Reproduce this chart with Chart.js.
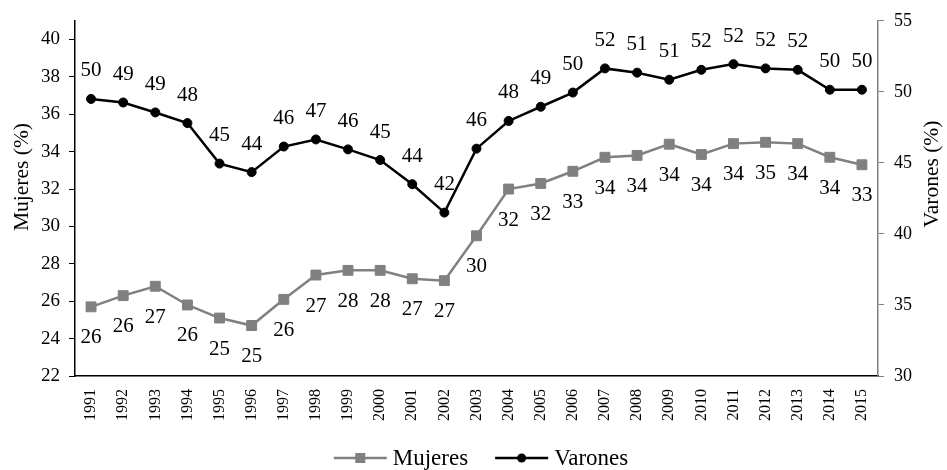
<!DOCTYPE html>
<html><head><meta charset="utf-8">
<style>html,body{margin:0;padding:0;background:#fff}</style>
<script src="https://cdn.jsdelivr.net/npm/chart.js@4.4.0/dist/chart.umd.min.js"></script>
</head><body>
<canvas id="c" width="947" height="470" style="width:947px;height:470px;display:block"></canvas>
<script>
const years = ['1991','1992','1993','1994','1995','1996','1997','1998','1999','2000','2001','2002','2003','2004','2005','2006','2007','2008','2009','2010','2011','2012','2013','2014','2015'];
const mujeres = [25.7,26.3,26.8,25.8,25.1,24.7,26.1,27.4,27.65,27.65,27.2,27.1,29.5,32.0,32.3,32.95,33.7,33.8,34.4,33.85,34.43,34.5,34.43,33.7,33.3];
const varones = [49.5,49.25,48.55,47.8,44.95,44.35,46.15,46.65,45.95,45.2,43.5,41.5,46.0,47.95,48.95,49.95,51.65,51.35,50.85,51.55,51.95,51.65,51.55,50.15,50.15];
const leftTicks = [22,24,26,28,30,32,34,36,38,40];
const rightTicks = [30,35,40,45,50,55];
const leftTitle = 'Mujeres (%)';
const rightTitle = 'Varones (%)';

const FONT = '"Liberation Serif", "Times New Roman", serif';
const GRAY = '#808080';

const valueLabels = {
  id: 'valueLabels',
  afterDatasetsDraw(chart) {
    const ctx = chart.ctx;
    const offsets = [31, -28];
    chart.data.datasets.forEach((ds, i) => {
      const meta = chart.getDatasetMeta(i);
      ctx.save();
      ctx.font = '21px ' + FONT;
      ctx.fillStyle = '#000';
      ctx.textAlign = 'center';
      ctx.textBaseline = 'middle';
      meta.data.forEach((pt, j) => {
        ctx.fillText(String(Math.round(ds.data[j])), pt.x, pt.y + offsets[i]);
      });
      ctx.restore();
    });
  }
};

const axisTitles = {
  id: 'axisTitles',
  afterDraw(chart) {
    const ctx = chart.ctx;
    ctx.save();
    ctx.font = '21.5px ' + FONT;
    ctx.fillStyle = '#000';
    ctx.textAlign = 'center';
    ctx.textBaseline = 'middle';
    [[22, 177, leftTitle], [932, 174, rightTitle]].forEach(([x, y, t]) => {
      ctx.save();
      ctx.translate(x, y);
      ctx.rotate(-Math.PI / 2);
      ctx.fillText(t, 0, 0);
      ctx.restore();
    });
    ctx.restore();
  }
};

const customLegend = {
  id: 'customLegend',
  afterDraw(chart) {
    const ctx = chart.ctx;
    const y = 458;
    ctx.save();
    ctx.font = '23px ' + FONT;
    ctx.textBaseline = 'middle';
    const sample = 53, gapText = 6, gapItem = 27;
    const items = chart.data.datasets.map(ds => ({ds, w: ctx.measureText(ds.label).width}));
    let total = 0;
    items.forEach((it, i) => { total += sample + gapText + it.w + (i ? gapItem : 0); });
    let x = 481 - total / 2;
    items.forEach((it, i) => {
      if (i) x += gapItem;
      const ds = it.ds;
      ctx.strokeStyle = ds.borderColor;
      ctx.lineWidth = ds.borderWidth;
      ctx.beginPath(); ctx.moveTo(x, y); ctx.lineTo(x + sample, y); ctx.stroke();
      ctx.fillStyle = ds.borderColor;
      const cx = x + sample / 2;
      if (ds.pointStyle === 'rect') {
        ctx.fillRect(cx - 5, y - 5, 10, 10);
      } else {
        ctx.beginPath(); ctx.arc(cx, y, 4.5, 0, Math.PI * 2); ctx.fill();
      }
      ctx.fillStyle = '#000';
      ctx.textAlign = 'left';
      ctx.fillText(ds.label, x + sample + gapText, y + 1);
      x += sample + gapText + it.w;
    });
    ctx.restore();
  }
};

new Chart(document.getElementById('c'), {
  type: 'line',
  data: {
    labels: years,
    datasets: [
      {
        label: 'Mujeres', data: mujeres, yAxisID: 'y',
        borderColor: GRAY, backgroundColor: GRAY, borderWidth: 2.5,
        pointStyle: 'rect', pointRadius: 7, pointBorderWidth: 1,
        pointBackgroundColor: GRAY, pointBorderColor: GRAY, tension: 0
      },
      {
        label: 'Varones', data: varones, yAxisID: 'y1',
        borderColor: '#000', backgroundColor: '#000', borderWidth: 2.5,
        pointStyle: 'circle', pointRadius: 4.5, pointBorderWidth: 1,
        pointBackgroundColor: '#000', pointBorderColor: '#000', tension: 0
      }
    ]
  },
  options: {
    responsive: false,
    animation: false,
    devicePixelRatio: 1,
    layout: { padding: { top: 17, left: 0, right: 0, bottom: 0 } },
    plugins: { legend: { display: false }, tooltip: { enabled: false } },
    scales: {
      x: {
        offset: true,
        grid: { display: false, drawTicks: false },
        border: { display: true, color: '#000', width: 1.5 },
        ticks: { color: '#000', font: { family: FONT, size: 16 }, minRotation: 90, maxRotation: 90, padding: 13, autoSkip: false },
        afterFit(s) { s.height = 94; }
      },
      y: {
        position: 'left', min: 22, max: 41,
        afterBuildTicks(s) { s.ticks = leftTicks.map(v => ({value: v})); },
        grid: { drawOnChartArea: false, drawTicks: true, tickLength: 6, color: '#000', lineWidth: 1 },
        border: { display: true, color: '#000', width: 1.5 },
        ticks: { color: '#000', font: { family: FONT, size: 19 }, padding: 9 },
        afterFit(s) { s.width = 75; }
      },
      y1: {
        position: 'right', min: 30, max: 55,
        afterBuildTicks(s) { s.ticks = rightTicks.map(v => ({value: v})); },
        grid: { drawOnChartArea: false, drawTicks: true, tickLength: 6, color: GRAY, lineWidth: 1 },
        border: { display: true, color: GRAY, width: 1.5 },
        ticks: { color: '#000', font: { family: FONT, size: 18 }, padding: 10 },
        afterFit(s) { s.width = 69; }
      }
    }
  },
  plugins: [valueLabels, axisTitles, customLegend]
});
</script>
</body></html>
